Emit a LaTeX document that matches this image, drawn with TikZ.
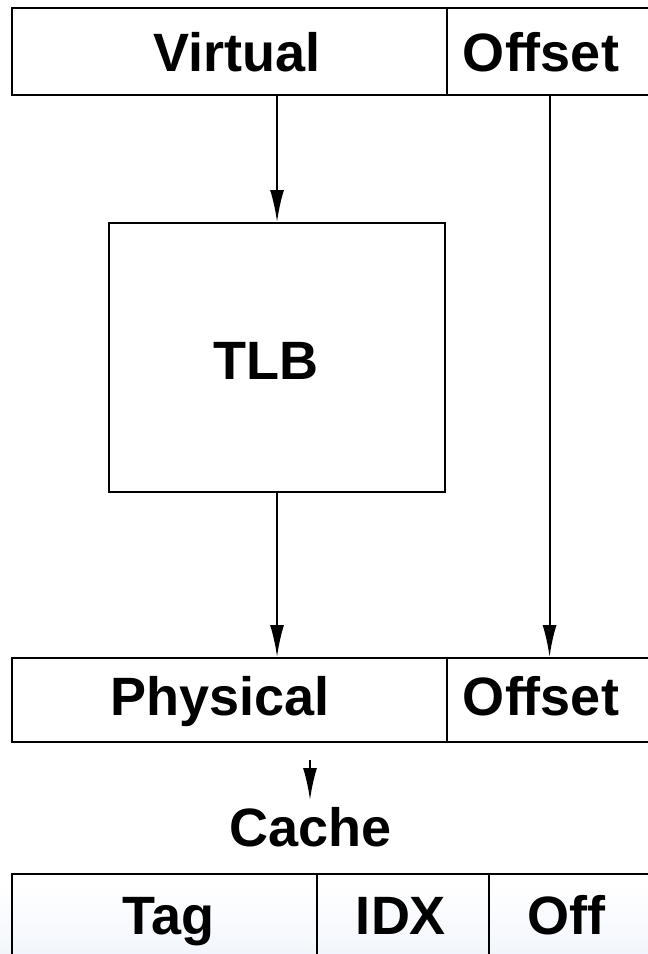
\documentclass[tikz,border=0pt]{standalone}
\usepackage{fontspec}
\setmainfont{Liberation Sans}
\usetikzlibrary{arrows.meta,calc}
\begin{document}
\begin{tikzpicture}[x=1pt,y=-1pt,
  cell/.style={draw=black,line width=2.1pt,rectangle,inner sep=0pt,anchor=north west},
  lbl/.style={inner sep=0pt,anchor=base,font=\fontsize{54}{60}\selectfont\bfseries},
  arr/.style={line width=2.1pt,-{Latex[length=32pt,width=14pt]}}]
\useasboundingbox (0,0) rectangle (648,954);
\clip (0,0) rectangle (648,954);
\shade[top color=white,bottom color={rgb,255:red,242;green,246;blue,252}] (0,885) rectangle (648,954);
% top address
\node[cell,minimum width=435pt,minimum height=87pt] (virt) at (11,7) {};
\node[cell,minimum width=205pt,minimum height=87pt] (voff) at (446,7) {};
\node[lbl] (virtt) at (237,71) {Virtual};
\node[lbl] (vofft) at (541,71) {Offset};
% TLB
\node[cell,minimum width=336pt,minimum height=269pt] (tlb) at (108,222) {};
\node[lbl] (tlbt) at (266,379) {TLB};
% physical
\node[cell,minimum width=435pt,minimum height=84pt] (phys) at (11,657) {};
\node[cell,minimum width=205pt,minimum height=84pt] (poff) at (446,657) {};
\node[lbl] (physt) at (220,715) {Physical};
\node[lbl] (pofft) at (541,715) {Offset};
% cache label
\node[lbl] (cache) at (311,846) {Cache};
% cache address
\node[cell,minimum width=305pt,minimum height=100pt] (tag) at (11,873) {};
\node[cell,minimum width=172pt,minimum height=100pt] (idx) at (316,873) {};
\node[cell,minimum width=163pt,minimum height=100pt] (off) at (488,873) {};
\node[lbl] (tagt) at (168,934) {Tag};
\node[lbl] (idxt) at (401,934) {IDX};
\node[lbl] (offt) at (566,934) {Off};
% arrows
\draw[arr] (virt.south -| tlb.north) -- (tlb.north);
\draw[arr] (tlb.south) -- (tlb.south |- phys.north);
\draw[arr] (voff.south) -- (poff.north);
\coordinate (cs) at (310,760);
\coordinate (ce) at (310,800);
\draw[arr] (cs) -- (ce);
\end{tikzpicture}
\end{document}
